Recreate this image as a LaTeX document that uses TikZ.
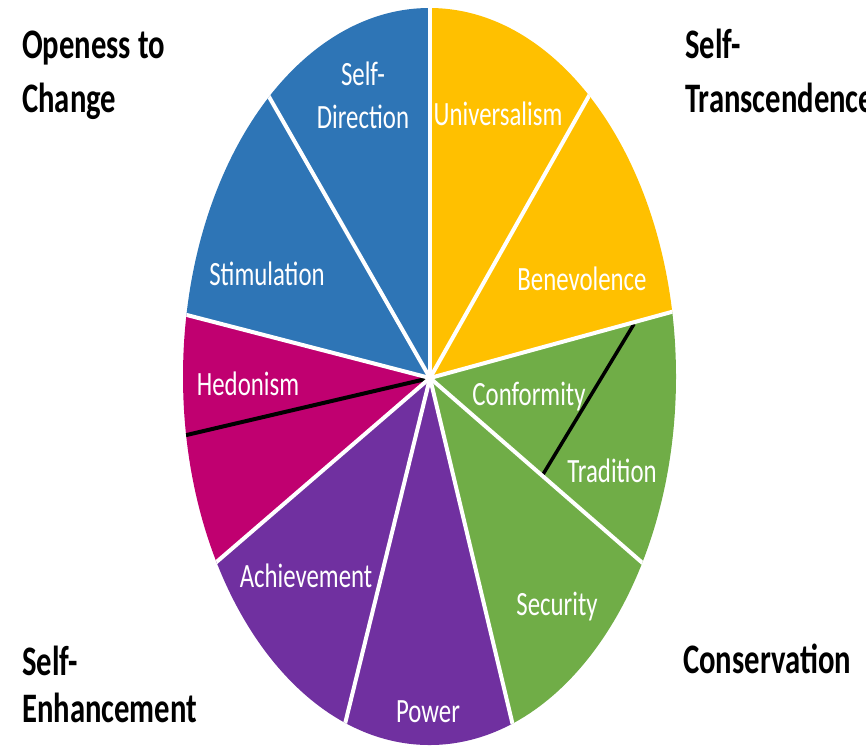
\documentclass[tikz,border=0pt]{standalone}
\usepackage{fontspec}
\setmainfont{Carlito}
\newfontfamily\slicefont[FakeStretch=0.73]{Carlito}
\usetikzlibrary{calc}
\definecolor{sdblue}{RGB}{46,117,182}
\definecolor{unyellow}{RGB}{255,192,0}
\definecolor{cogreen}{RGB}{112,173,71}
\definecolor{popurple}{RGB}{112,48,160}
\definecolor{hemagenta}{RGB}{192,0,112}
\tikzstyle{value}=[text=white,font=\slicefont\fontsize{34}{43}\selectfont,anchor=base,align=center,inner sep=0pt]
\tikzstyle{group}=[font=\slicefont\bfseries\fontsize{42}{54}\selectfont,anchor=base west,align=left,inner sep=0pt]
\tikzstyle{divider}=[draw=white,line width=4pt]
\tikzstyle{split}=[draw=black,line width=4pt]

\begin{document}
\begin{tikzpicture}[x=1pt,y=-1pt]
                    \useasboundingbox (0,0) rectangle (866,748);
                    \coordinate (c) at (430,378);
                    \coordinate (b0) at (430,4);
                    \coordinate (b1) at (268,95);
                    \coordinate (b2) at (183,314);
                    \coordinate (b3) at (213,565);
                    \coordinate (b4) at (343,732);
                    \coordinate (b5) at (514,730);
                    \coordinate (b6) at (646,566);
                    \coordinate (b7) at (675,311);
                    \coordinate (b8) at (590,94);
                    \coordinate (h) at (178,437);
                    \coordinate (t1) at (634,324);
                    \coordinate (t2) at (542,476);

                    \begin{scope}
                    \clip (429.5,376.5) ellipse [x radius=246.5pt,y radius=368.5pt];
                    \foreach \a/\b/\col in {b0/b1/sdblue,b1/b2/sdblue,b2/b3/hemagenta,b3/b4/popurple,b4/b5/popurple,b5/b6/cogreen,b6/b7/cogreen,b7/b8/unyellow,b8/b0/unyellow}
                        \fill [\col] (c) -- ($(c)!3!(\a)$) -- ($(c)!3!(\b)$) -- cycle;
                    \draw [split] (c) -- (h);
                    \draw [split,line width=3.5pt] (t1) -- (t2);
                    \foreach \b in {b0,b1,b2,b3,b4,b5,b6,b7,b8}
                        \draw [divider] (c) -- (\b);
                    \end{scope}

                    \node (selfdir) at (363,128) [value] {Self-\\Direction};
                    \node (univ) at (498,125) [value] {Universalism};
                    \node (stim) at (267,285) [value] {Stimulation};
                    \node (bene) at (582,290) [value] {Benevolence};
                    \node (hedo) at (248,395) [value] {Hedonism};
                    \node (conf) at (529,405) [value] {Conformity};
                    \node (trad) at (612,482) [value] {Tradition};
                    \node (achi) at (306,587) [value] {Achievement};
                    \node (secu) at (557,615) [value] {Security};
                    \node (powe) at (428,722) [value] {Power};

                    \node (open) at (22,112) [group] {Openess to\\Change};
                    \node (trans) at (685,112) [group] {Self-\\Transcendence};
                    \node (enh) at (22,722) [group,font=\slicefont\bfseries\fontsize{42}{47}\selectfont] {Self-\\Enhancement};
                    \node (cons) at (683,673) [group] {Conservation};
                \end{tikzpicture}
\end{document}
